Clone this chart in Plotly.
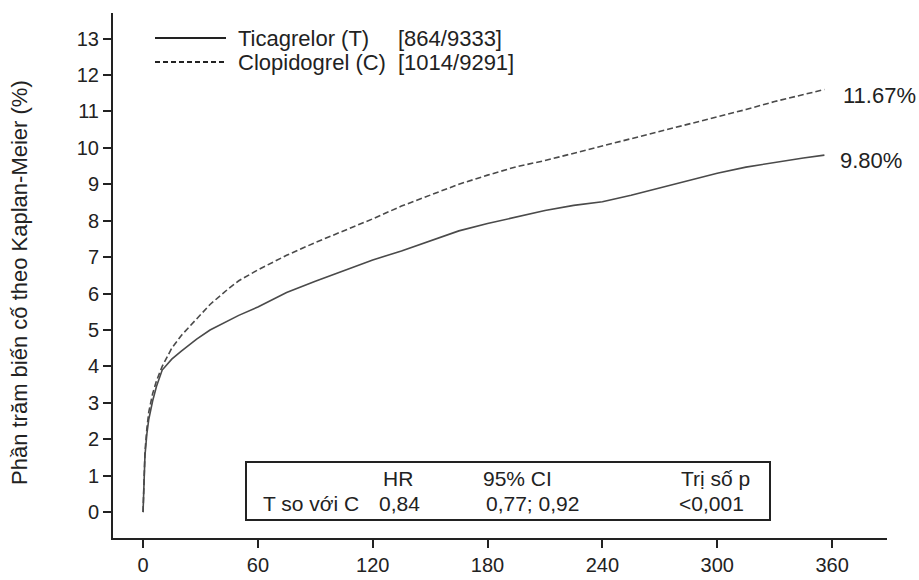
import plotly.graph_objects as go

# ---- data ----
days = [0, 0.5, 1, 2, 3, 5, 7, 10, 15, 20, 28, 35, 45, 50, 60, 75, 90, 105, 120, 135,
        150, 165, 180, 195, 210, 225, 240, 255, 270, 285, 300, 315, 330, 345, 356]
ticagrelor = [0, 1.0, 1.55, 2.15, 2.55, 3.05, 3.45, 3.9, 4.2, 4.42, 4.75, 5.0, 5.27, 5.4, 5.63,
              6.03, 6.34, 6.62, 6.92, 7.17, 7.45, 7.72, 7.92, 8.1, 8.28, 8.42, 8.52, 8.7, 8.9,
              9.12, 9.3, 9.47, 9.6, 9.72, 9.8]
clopidogrel = [0, 1.0, 1.65, 2.3, 2.75, 3.25, 3.6, 4.0, 4.5, 4.85, 5.3, 5.7, 6.15, 6.35, 6.65,
               7.05, 7.4, 7.72, 8.05, 8.4, 8.7, 9.0, 9.25, 9.48, 9.65, 9.85, 10.05, 10.25,
               10.44, 10.65, 10.85, 11.05, 11.27, 11.47, 11.6]

x_ticks = [0, 60, 120, 180, 240, 300, 360]
y_ticks = list(range(0, 14))

legend_names = ["Ticagrelor (T)", "Clopidogrel (C)"]
legend_counts = ["[864/9333]", "[1014/9291]"]
end_labels = ["9.80%", "11.67%"]

box_header = ["HR", "95% CI", "Trị số p"]
box_row = ["T so với C", "0,84", "0,77; 0,92", "<0,001"]

y_title = "Phần trăm biến cố theo Kaplan-Meier (%)"

# ---- layout geometry (pixels) ----
W, H = 919, 580
L, R, T, B = 113, 887, 13, 538


def px(x):
    return (x - L) / (R - L)


def py(y):
    return (B - y) / (B - T)


FONT = "Liberation Sans, Arial, sans-serif"
INK = "#222222"
CURVE = "#4a4a4a"
TXT = 22

fig = go.Figure()
fig.add_trace(go.Scatter(x=days, y=ticagrelor, mode="lines", name=legend_names[0],
                         line=dict(color=CURVE, width=1.6), showlegend=False))
fig.add_trace(go.Scatter(x=days, y=clopidogrel, mode="lines", name=legend_names[1],
                         line=dict(color=CURVE, width=1.6, dash="6px,3px"), showlegend=False))

shapes = []
annotations = []

# legend samples
shapes.append(dict(type="line", xref="paper", yref="paper", x0=px(155), x1=px(226),
                   y0=py(38), y1=py(38), line=dict(color=INK, width=2)))
shapes.append(dict(type="line", xref="paper", yref="paper", x0=px(155), x1=px(226),
                   y0=py(62), y1=py(62), line=dict(color=INK, width=2, dash="5px,3px")))
for i, yy in enumerate([38, 62]):
    annotations.append(dict(xref="paper", yref="paper", x=px(236), y=py(yy), text=legend_names[i],
                            showarrow=False, xanchor="left", yanchor="middle",
                            font=dict(size=TXT, color=INK, family=FONT)))
    annotations.append(dict(xref="paper", yref="paper", x=px(396), y=py(yy), text=legend_counts[i],
                            showarrow=False, xanchor="left", yanchor="middle",
                            font=dict(size=TXT, color=INK, family=FONT)))

# end labels
annotations.append(dict(xref="paper", yref="paper", x=px(838), y=py(160), text=end_labels[0],
                        showarrow=False, xanchor="left", yanchor="middle",
                        font=dict(size=TXT, color=INK, family=FONT)))
annotations.append(dict(xref="paper", yref="paper", x=px(841), y=py(95), text=end_labels[1],
                        showarrow=False, xanchor="left", yanchor="middle",
                        font=dict(size=TXT, color=INK, family=FONT)))

# y-axis title
annotations.append(dict(xref="paper", yref="paper", x=px(19), y=py(283), text=y_title,
                        textangle=-90, showarrow=False, xanchor="center", yanchor="middle",
                        font=dict(size=TXT, color=INK, family=FONT)))

# HR box
shapes.append(dict(type="rect", xref="paper", yref="paper", x0=px(246), x1=px(770),
                   y0=py(520), y1=py(462), line=dict(color=INK, width=2), fillcolor="rgba(0,0,0,0)"))
for txt, cx in zip(box_header, [398, 517, 715]):
    annotations.append(dict(xref="paper", yref="paper", x=px(cx), y=py(478), text=txt,
                            showarrow=False, xanchor="center", yanchor="middle",
                            font=dict(size=21, color=INK, family=FONT)))
for txt, lx in zip(box_row, [261, 377, 484, 677]):
    annotations.append(dict(xref="paper", yref="paper", x=px(lx), y=py(503), text=txt,
                            showarrow=False, xanchor="left", yanchor="middle",
                            font=dict(size=21, color=INK, family=FONT)))

fig.update_layout(
    width=W, height=H,
    margin=dict(l=L, r=W - R, t=T, b=H - B, pad=0, autoexpand=False),
    paper_bgcolor="white", plot_bgcolor="white",
    font=dict(family=FONT, size=20, color=INK),
    shapes=shapes, annotations=annotations,
    showlegend=False,
    xaxis=dict(range=[-15.7, 388.7], tickvals=x_ticks, ticktext=[str(v) for v in x_ticks],
               showgrid=False, zeroline=False, showline=True, linecolor=INK, linewidth=2,
               ticks="outside", ticklen=8, tickwidth=1.5, tickcolor=INK, automargin=False,
               tickfont=dict(size=20, color=INK, family=FONT)),
    yaxis=dict(range=[-0.71, 13.7], tickvals=y_ticks, ticktext=[str(v) for v in y_ticks],
               showgrid=False, zeroline=False, showline=True, linecolor=INK, linewidth=2,
               ticks="outside", ticklen=8, tickwidth=1.5, tickcolor=INK, automargin=False,
               tickfont=dict(size=20, color=INK, family=FONT)),
)

fig.write_html(
    "out.html",
    config={"responsive": False, "displayModeBar": False},
    post_script="document.body.style.margin='0';document.body.style.padding='0';"
                "document.documentElement.style.overflow='hidden';",
)
